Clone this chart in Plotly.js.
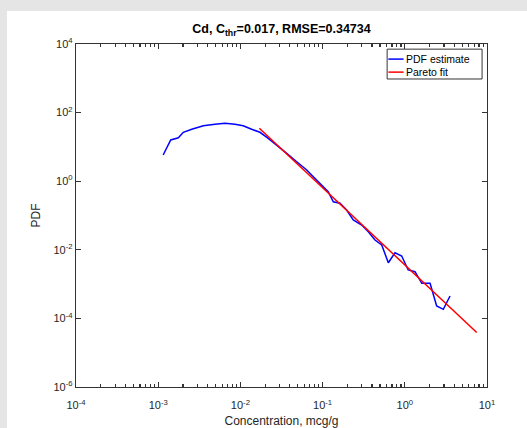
<!DOCTYPE html>
<html>
<head>
<meta charset="utf-8">
<script src="https://cdn.plot.ly/plotly-3.0.1.min.js"></script>
<style>
  html, body { margin: 0; padding: 0; background: #e5e5e5; width: 527px; height: 428px; overflow: hidden; }
  #plot { position: absolute; left: 7px; top: 11px; width: 520px; height: 417px; background: #ffffff; }
</style>
</head>
<body>
<div id="plot"></div>
<script>
// PDF estimate (blue)
const pdfX = [0.00115, 0.00142, 0.00176, 0.00202, 0.00256, 0.00354, 0.00491, 0.0065, 0.0086, 0.0108, 0.0137, 0.0173, 0.0218, 0.0277, 0.0366, 0.0484, 0.0641, 0.0771, 0.0928, 0.117, 0.135, 0.163, 0.196, 0.236, 0.299, 0.36, 0.434, 0.524, 0.63, 0.76, 0.917, 1.10, 1.33, 1.61, 2.03, 2.44, 2.94, 3.55];
const pdfY = [5.8, 15.9, 18.5, 26.7, 32.6, 41.5, 45.6, 48.7, 45.6, 41.5, 32.6, 26.7, 17.8, 11.4, 6.5, 3.7, 2.12, 1.35, 0.87, 0.494, 0.252, 0.227, 0.145, 0.074, 0.0528, 0.0337, 0.0193, 0.0138, 0.0042, 0.0082, 0.0066, 0.00258, 0.0023, 0.00105, 0.00105, 0.00023, 0.000184, 0.00045];
// Pareto fit (red) end points
const fitX = [0.017, 7.5];
const fitY = [34.8, 0.000039];

const titleText = '<b>Cd, C<sub>thr</sub>=0.017, RMSE=0.34734</b>';
const xTitle = 'Concentration, mcg/g';
const yTitle = 'PDF';
const names = ['PDF estimate', 'Pareto fit'];
const colors = ['#0000ff', '#ff0000'];
const xTickVals = [1e-4, 1e-3, 1e-2, 1e-1, 1, 10];
const xTickText = ['10<sup>-4</sup>', '10<sup>-3</sup>', '10<sup>-2</sup>', '10<sup>-1</sup>', '10<sup>0</sup>', '10<sup>1</sup>'];
const yTickVals = [1e-6, 1e-4, 1e-2, 1, 1e2, 1e4];
const yTickText = ['10<sup>-6</sup>', '10<sup>-4</sup>', '10<sup>-2</sup>', '10<sup>0</sup>', '10<sup>2</sup>', '10<sup>4</sup>'];
const minorDigits = [2, 3, 4, 5, 6, 7, 8, 9];

// minor tick positions on x: digits 2..9 within each decade
const xMinorVals = [];
xTickVals.slice(0, -1).forEach(d => minorDigits.forEach(m => xMinorVals.push(d * m)));

const font = 'Liberation Sans, Arial, sans-serif';
const axisColor = '#333333';

const traces = [
  { x: pdfX, y: pdfY, type: 'scatter', mode: 'lines', name: names[0], line: { color: colors[0], width: 1.5 }, showlegend: false },
  { x: fitX, y: fitY, type: 'scatter', mode: 'lines', name: names[1], line: { color: colors[1], width: 1.5 }, showlegend: false }
];

// MATLAB-style compact legend box (paper coordinates)
const legBox = { x0: 0.757, x1: 0.988, y0: 0.898, y1: 0.985 };
const legRows = [0.956, 0.918];
const shapes = [
  { type: 'rect', xref: 'paper', yref: 'paper', x0: legBox.x0, x1: legBox.x1, y0: legBox.y0, y1: legBox.y1,
    line: { color: axisColor, width: 1 }, fillcolor: '#ffffff', layer: 'above' }
];
const annotations = [];
names.forEach((n, i) => {
  shapes.push({ type: 'line', xref: 'paper', yref: 'paper', x0: 0.760, x1: 0.797, y0: legRows[i], y1: legRows[i],
    line: { color: colors[i], width: 1.5 }, layer: 'above' });
  annotations.push({ xref: 'paper', yref: 'paper', x: 0.799, y: legRows[i], xanchor: 'left', yanchor: 'middle',
    text: n, showarrow: false, font: { family: font, size: 10.5, color: '#000000' } });
});

const layout = {
  width: 520, height: 417,
  margin: { l: 69, r: 40, t: 33, b: 41 },
  paper_bgcolor: '#ffffff',
  plot_bgcolor: '#ffffff',
  font: { family: font, size: 11, color: '#262626' },
  title: { text: titleText, font: { family: font, size: 12.5, color: '#000000' }, x: 0.5, xref: 'paper', xanchor: 'center', y: 1, yref: 'paper', yanchor: 'bottom', pad: { b: 11 } },
  showlegend: false,
  shapes: shapes,
  annotations: annotations,
  xaxis: {
    type: 'log', range: [-4, 1],
    showline: true, linecolor: axisColor, linewidth: 1.2, mirror: 'ticks',
    ticks: 'inside', ticklen: 5, tickcolor: axisColor, tickwidth: 1.2,
    tickmode: 'array', tickvals: xTickVals, ticktext: xTickText,
    ticklabelstandoff: 8,
    minor: { tickmode: 'array', tickvals: xMinorVals, ticks: 'inside', ticklen: 3, tickcolor: axisColor, tickwidth: 1.2, showgrid: false },
    showgrid: false, zeroline: false,
    tickfont: { family: font, size: 11, color: '#262626' },
    title: { text: xTitle, font: { family: font, size: 12, color: '#262626' }, standoff: 6 }
  },
  yaxis: {
    type: 'log', range: [-6, 4],
    showline: true, linecolor: axisColor, linewidth: 1.2, mirror: 'ticks',
    ticks: 'inside', ticklen: 5, tickcolor: axisColor, tickwidth: 1.2,
    tickmode: 'array', tickvals: yTickVals, ticktext: yTickText,
    showgrid: false, zeroline: false,
    tickfont: { family: font, size: 11, color: '#262626' },
    title: { text: yTitle, font: { family: font, size: 12, color: '#262626' }, standoff: 10 }
  }
};

Plotly.newPlot('plot', traces, layout, { staticPlot: true, displayModeBar: false });
</script>
</body>
</html>
